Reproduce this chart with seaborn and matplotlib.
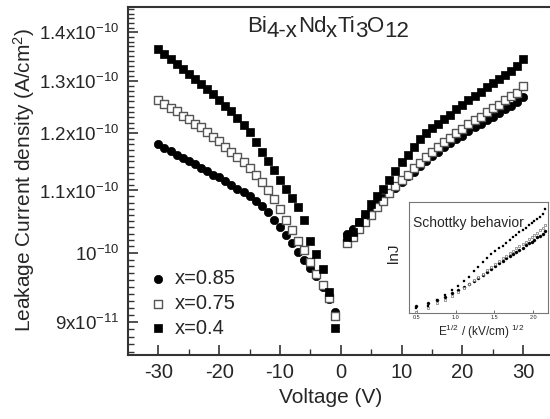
import numpy as np
import pandas as pd
import matplotlib
matplotlib.use("Agg")
import matplotlib.pyplot as plt
import seaborn as sns
from matplotlib.ticker import FixedLocator, NullFormatter
from matplotlib.transforms import IdentityTransform

# ---------------- data (J in units of 1e-10 A/cm^2) ----------------
voltage_neg = list(range(-30, 0))
voltage_pos = list(range(1, 31))

j085_neg = [1.180, 1.174, 1.168, 1.162, 1.156, 1.150, 1.145, 1.139, 1.133, 1.127,
            1.122, 1.116, 1.109, 1.103, 1.097, 1.090, 1.082, 1.074, 1.064, 1.052,
            1.040, 1.028, 1.015, 1.002, 0.990, 0.977, 0.965, 0.949, 0.933, 0.914]
j085_pos = [1.030, 1.038, 1.048, 1.057, 1.067, 1.077, 1.087, 1.096, 1.105, 1.114,
            1.124, 1.132, 1.141, 1.150, 1.159, 1.167, 1.175, 1.182, 1.189, 1.196,
            1.204, 1.211, 1.218, 1.225, 1.231, 1.238, 1.245, 1.251, 1.258, 1.268]

j075_neg = [1.262, 1.255, 1.248, 1.241, 1.233, 1.227, 1.218, 1.211, 1.202, 1.194,
            1.186, 1.176, 1.167, 1.157, 1.148, 1.138, 1.127, 1.115, 1.101, 1.085,
            1.069, 1.052, 1.036, 1.019, 1.004, 0.986, 0.969, 0.952, 0.934, 0.908]
j075_pos = [1.015, 1.025, 1.038, 1.049, 1.060, 1.072, 1.083, 1.095, 1.107, 1.117,
            1.127, 1.138, 1.147, 1.157, 1.166, 1.175, 1.184, 1.192, 1.200, 1.208,
            1.217, 1.224, 1.231, 1.239, 1.247, 1.254, 1.262, 1.270, 1.277, 1.289]

j040_neg = [1.365, 1.354, 1.344, 1.334, 1.324, 1.314, 1.303, 1.293, 1.284, 1.274,
            1.262, 1.251, 1.241, 1.229, 1.216, 1.202, 1.184, 1.167, 1.150, 1.135,
            1.118, 1.102, 1.087, 1.073, 1.052, 1.019, 0.999, 0.976, 0.942, 0.892]
j040_pos = [1.025, 1.032, 1.048, 1.061, 1.077, 1.090, 1.103, 1.118, 1.134, 1.148,
            1.162, 1.176, 1.189, 1.200, 1.210, 1.217, 1.226, 1.235, 1.245, 1.253,
            1.263, 1.271, 1.279, 1.287, 1.295, 1.303, 1.311, 1.319, 1.329, 1.345]

series_labels = ["x=0.85", "x=0.75", "x=0.4"]

# inset: E^(1/2) values for the positive-bias points
inset_sqrtE = [0.490, 0.644, 0.762, 0.862, 0.950, 1.029, 1.102, 1.170, 1.234, 1.294,
               1.352, 1.406, 1.459, 1.510, 1.558, 1.606, 1.651, 1.696, 1.739, 1.781,
               1.822, 1.862, 1.902, 1.940, 1.978, 2.014, 2.050, 2.086, 2.121, 2.155]

ytick_vals = [9e-11, 1e-10, 1.1e-10, 1.2e-10, 1.3e-10, 1.4e-10]
ytick_labels = ["9x10$^{-11}$", "10$^{-10}$", "1.1x10$^{-10}$",
                "1.2x10$^{-10}$", "1.3x10$^{-10}$", "1.4x10$^{-10}$"]
xtick_vals = [-30, -20, -10, 0, 10, 20, 30]

# title pieces: (text, is_subscript)
title_parts = [("Bi", False), ("4-x", True), ("Nd", False), ("x", True),
               ("Ti", False), ("3", True), ("O", False), ("12", True)]

# ---------------- frame ----------------
frames = []
for lab, neg, pos in zip(series_labels, [j085_neg, j075_neg, j040_neg],
                         [j085_pos, j075_pos, j040_pos]):
    frames.append(pd.DataFrame({"V": voltage_neg + voltage_pos,
                                "J": np.array(neg + pos) * 1e-10,
                                "series": lab}))
df = pd.concat(frames, ignore_index=True)

inset_frames = []
for lab, pos in zip(series_labels, [j085_pos, j075_pos, j040_pos]):
    inset_frames.append(pd.DataFrame({"sqrtE": inset_sqrtE,
                                      "lnJ": np.log(np.array(pos) * 1e-10),
                                      "series": lab}))
dfi = pd.concat(inset_frames, ignore_index=True)

sns.set_style("ticks")
plt.rcParams["font.family"] = ["Liberation Sans", "DejaVu Sans"]
plt.rcParams["mathtext.default"] = "regular"

fig = plt.figure(figsize=(5.5, 4.19), dpi=100)
ax = fig.add_axes([0.2327, 0.1527, 0.7738, 0.8306])

styles = {
    "x=0.85": dict(marker="o", s=36, color="black", edgecolor="black", linewidth=0.5),
    "x=0.75": dict(marker="s", s=30, facecolor="white", edgecolor="#555555", linewidth=1.0),
    "x=0.4": dict(marker="s", s=28, color="black", edgecolor="black", linewidth=0.5),
}
for lab in series_labels:
    sub = df[df["series"] == lab]
    sns.scatterplot(data=sub, x="V", y="J", ax=ax, label=lab, zorder=3, **styles[lab])

ax.set_yscale("log")
ax.set_xlim(-35, 35)
ax.set_ylim(8.56e-11, 1.455e-10)
ax.xaxis.set_major_locator(FixedLocator(xtick_vals))
ax.xaxis.set_minor_locator(FixedLocator([-25, -15, -5, 5, 15, 25]))
ax.set_xticklabels([str(v) for v in xtick_vals])
ax.yaxis.set_major_locator(FixedLocator(ytick_vals))
ax.set_yticklabels(ytick_labels)
ax.yaxis.set_minor_locator(FixedLocator(np.arange(86, 146) * 1e-12))
ax.yaxis.set_minor_formatter(NullFormatter())

ax.tick_params(axis="both", which="major", direction="in", length=7, width=1.2,
               color="#333333", labelsize=14.5, pad=6)
ax.tick_params(axis="y", which="major", labelsize=13.5)
ax.tick_params(axis="both", which="minor", direction="in", length=4, width=1.0,
               color="#333333")
for sp in ax.spines.values():
    sp.set_color("#333333")
    sp.set_linewidth(1.5)

ax.set_xlabel("Voltage (V)", fontsize=15)
ax.set_ylabel("Leakage Current density (A/cm$^{2}$)", fontsize=15)
ax.xaxis.set_label_coords(0.475, -0.095)
ax.yaxis.set_label_coords(-0.213, 0.503)

leg = ax.legend(loc="upper left", bbox_to_anchor=(0.0517, 0.246), frameon=False,
                fontsize=14.5, handlelength=0.8, handletextpad=0.45,
                labelspacing=0.28, borderpad=0, borderaxespad=0)

# title with full-size, lowered subscripts
renderer = fig.canvas.get_renderer()
tx = 247.0
base_y = 419 - 31.5
for txt, is_sub in title_parts:
    t = fig.text(tx, base_y - (5 if is_sub else 0), txt, transform=IdentityTransform(),
                 fontsize=16, ha="left", va="baseline")
    bb = t.get_window_extent(renderer)
    tx = bb.x1

# ---------------- inset ----------------
axin = fig.add_axes([409 / 550, 1 - 313 / 419, 139 / 550, 111.3 / 419])
inset_styles = {
    "x=0.85": dict(marker="o", s=5, color="black", edgecolor="black", linewidth=0.2),
    "x=0.75": dict(marker="s", s=4, facecolor="white", edgecolor="#777777", linewidth=0.5),
    "x=0.4": dict(marker="s", s=4, color="black", edgecolor="black", linewidth=0.2),
}
for lab in series_labels:
    sub = dfi[dfi["series"] == lab]
    sns.scatterplot(data=sub, x="sqrtE", y="lnJ", ax=axin, legend=False, **inset_styles[lab])
axin.set_xlim(0.40, 2.19)
axin.set_ylim(np.log(1.011e-10), np.log(1.374e-10))
axin.set_xticks([0.5, 1.0, 1.5, 2.0])
axin.set_xticklabels(["0.5", "1.0", "1.5", "2.0"])
axin.set_yticks([])
axin.tick_params(axis="x", direction="in", length=2, width=0.6, labelsize=4, pad=1.5,
                 color="#555555")
for sp in axin.spines.values():
    sp.set_color("#777777")
    sp.set_linewidth(0.8)
axin.set_xlabel("E$^{1/2}$ / (kV/cm) $^{1/2}$", fontsize=8.5)
axin.xaxis.set_label_coords(0.518, -0.085)
axin.set_ylabel("lnJ", fontsize=11)
axin.yaxis.set_label_coords(-0.055, 0.54)
axin.text(0.03, 0.81, "Schottky behavior", transform=axin.transAxes, fontsize=10,
          ha="left", va="center")

fig.savefig("out.png", dpi=100)
